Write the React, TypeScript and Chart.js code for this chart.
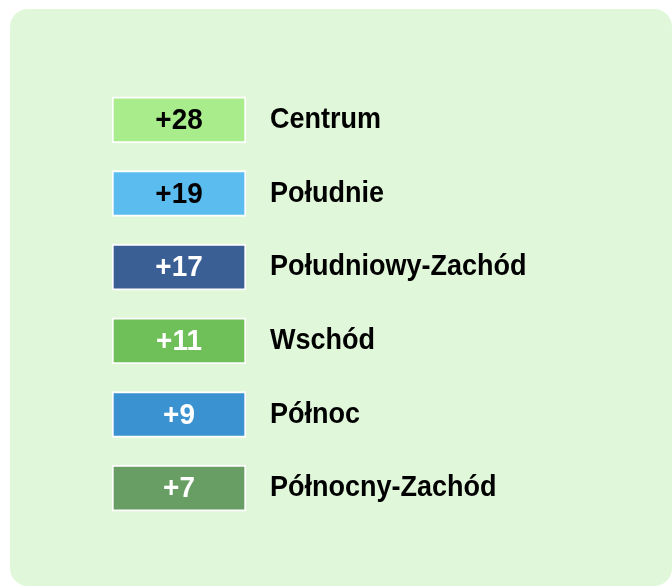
import React, { useEffect, useRef } from "react";
import { Chart, registerables } from "chart.js";

Chart.register(...registerables);

const categories = [
  "Centrum",
  "Południe",
  "Południowy-Zachód",
  "Wschód",
  "Północ",
  "Północny-Zachód",
];
const values = [28, 19, 17, 11, 9, 7];
const boxColors = ["#A8EC8C", "#5BBDEF", "#3A5F95", "#70C05A", "#3A93D0", "#689E64"];
const valueTextColors = ["#000000", "#000000", "#FFFFFF", "#FFFFFF", "#FFFFFF", "#FFFFFF"];

const W = 672;
const H = 586;
const FONT = '"Liberation Sans", Arial, sans-serif';

const panelPlugin = {
  id: "panel",
  beforeDraw(chart: any) {
    const ctx = chart.ctx;
    ctx.save();
    ctx.fillStyle = "#FFFFFF";
    ctx.fillRect(0, 0, chart.width, chart.height);
    ctx.fillStyle = "#E0F7DA";
    ctx.beginPath();
    ctx.roundRect(10, 9, chart.width - 10, chart.height - 9, 18);
    ctx.fill();
    ctx.restore();
  },
};

function narrowText(ctx: any, text: string, x: number, y: number, align: string, size: number, sx: number, color: string) {
  ctx.save();
  ctx.translate(x, y);
  ctx.scale(sx, 1);
  ctx.textBaseline = "middle";
  ctx.textAlign = align;
  ctx.font = `bold ${size}px ${FONT}`;
  ctx.fillStyle = color;
  ctx.fillText(text, 0, 0);
  ctx.restore();
}

const labelPlugin = {
  id: "tileLabels",
  afterDatasetsDraw(chart: any) {
    const ctx = chart.ctx;
    const meta = chart.getDatasetMeta(0);
    meta.data.forEach((el: any, i: number) => {
      const left = Math.min(el.x, el.base);
      const right = Math.max(el.x, el.base);
      const cx = (left + right) / 2;
      const cy = el.y;
      narrowText(ctx, "+" + values[i], cx, cy + 1, "center", 30, 0.93, valueTextColors[i]);
      narrowText(ctx, categories[i], right + 24, cy, "left", 30, 0.9, "#000000");
    });
  },
};

export default function App() {
  const ref = useRef<HTMLCanvasElement | null>(null);
  useEffect(() => {
    if (!ref.current) return;
    const chart = new Chart(ref.current, {
      type: "bar",
      data: {
        labels: categories,
        datasets: [
          {
            data: categories.map(() => [0, 1]) as any,
            backgroundColor: boxColors,
            borderColor: "#FFFFFF",
            borderWidth: 2,
            borderSkipped: false,
            barThickness: 46,
          },
        ],
      },
      options: {
        indexAxis: "y",
        responsive: false,
        animation: false,
        layout: { padding: { left: 112, right: W - 246, top: 83, bottom: H - 525 } },
        scales: {
          x: { type: "linear", min: 0, max: 1, display: false },
          y: { type: "category", display: false, offset: true, grid: { display: false } },
        },
        plugins: {
          legend: { display: false },
          tooltip: { enabled: false },
        },
      },
      plugins: [panelPlugin, labelPlugin],
    });
    return () => chart.destroy();
  }, []);
  return (
    <div style={{ position: "fixed", left: 0, top: 0, width: W, height: H }}>
      <canvas ref={ref} width={W} height={H} style={{ display: "block", width: W, height: H }} />
    </div>
  );
}
